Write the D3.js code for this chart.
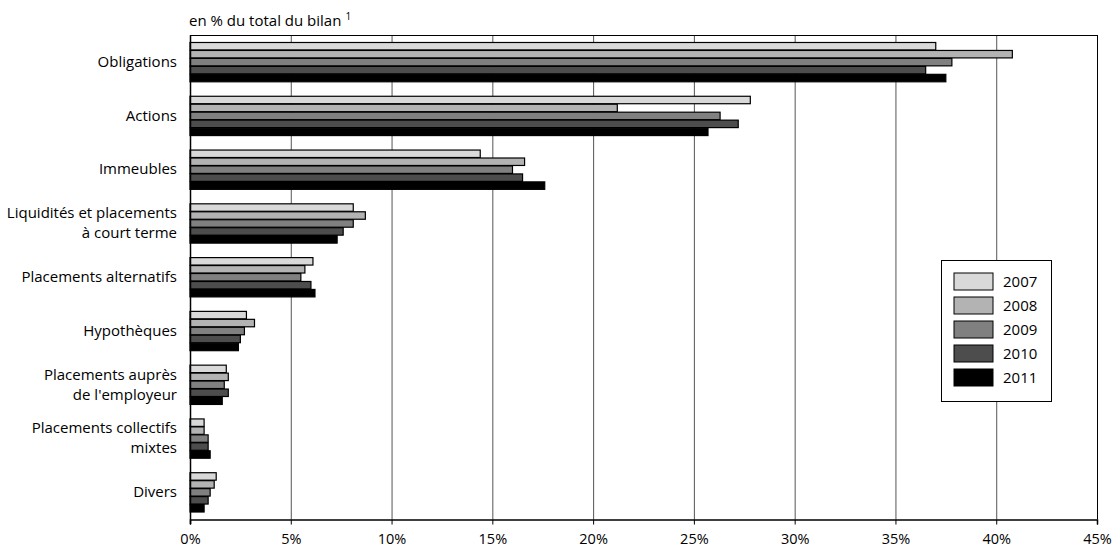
<!DOCTYPE html>
<html><head><meta charset="utf-8">
<script src="https://cdn.jsdelivr.net/npm/d3@7/dist/d3.min.js"></script>
<style>body{margin:0;background:#fff}svg text{font-family:"Open Sans",sans-serif;fill:#000}</style>
</head><body><svg id="c" width="1116" height="549"></svg>
<script>
const categories = [
  ["Obligations"],
  ["Actions"],
  ["Immeubles"],
  ["Liquidités et placements","à court terme"],
  ["Placements alternatifs"],
  ["Hypothèques"],
  ["Placements auprès","de l'employeur"],
  ["Placements collectifs","mixtes"],
  ["Divers"]
];
const years = ["2007","2008","2009","2010","2011"];
const v2007 = [37.0, 27.8, 14.4, 8.1, 6.1, 2.8, 1.8, 0.7, 1.3];
const v2008 = [40.8, 21.2, 16.6, 8.7, 5.7, 3.2, 1.9, 0.7, 1.2];
const v2009 = [37.8, 26.3, 16.0, 8.1, 5.5, 2.7, 1.7, 0.9, 1.0];
const v2010 = [36.5, 27.2, 16.5, 7.6, 6.0, 2.5, 1.9, 0.9, 0.9];
const v2011 = [37.5, 25.7, 17.6, 7.3, 6.2, 2.4, 1.6, 1.0, 0.7];
const xTicks = [0,5,10,15,20,25,30,35,40,45];
const colors = ["#d9d9d9","#b3b3b3","#808080","#4d4d4d","#000000"];
const series = [v2007,v2008,v2009,v2010,v2011];

const svg = d3.select("#c");
const m = {l:190, r:1097, t:35, b:519};
const x = d3.scaleLinear().domain([0,45]).range([m.l, m.r]);
const y = d3.scaleBand().domain(d3.range(categories.length)).range([m.t, m.b]).paddingInner(0.26).paddingOuter(0.13);
const ys = d3.scaleBand().domain(d3.range(years.length)).range([0, y.bandwidth()]);

// gridlines
svg.append("g").selectAll("line").data(xTicks.slice(1,-1)).join("line")
  .attr("x1", d=>x(d)+0.5).attr("x2", d=>x(d)+0.5).attr("y1", m.t).attr("y2", m.b)
  .attr("stroke","#555").attr("stroke-width",1);
// frame top/right
svg.append("line").attr("x1",m.l).attr("x2",m.r+0.5).attr("y1",m.t+0.5).attr("y2",m.t+0.5).attr("stroke","#000");
svg.append("line").attr("x1",m.r+0.5).attr("x2",m.r+0.5).attr("y1",m.t).attr("y2",m.b).attr("stroke","#000");

// bars
categories.forEach((c,i)=>{
  const g = svg.append("g").attr("transform",`translate(0,${y(i)})`);
  g.selectAll("rect").data(series.map((s,k)=>({v:s[i],k}))).join("rect")
    .attr("x", x(0)).attr("y", d=>ys(d.k)+0.5)
    .attr("width", d=>x(d.v)-x(0)).attr("height", ys.bandwidth()-0.5)
    .attr("fill", d=>colors[d.k]).attr("stroke","#000").attr("stroke-width",1.2);
});

// bottom axis
const ax = svg.append("g").attr("transform",`translate(0,${m.b+0.5})`)
  .call(d3.axisBottom(x).tickValues(xTicks).tickFormat(d=>d+"%").tickSizeOuter(0).tickSize(5).tickPadding(9));
ax.select(".domain").attr("stroke","#000").attr("stroke-width",1.5);
ax.selectAll(".tick line").attr("stroke","#000");
ax.selectAll("text").attr("font-size",14.5).attr("font-family","'Open Sans',sans-serif");
// left axis line
svg.append("line").attr("x1",m.l+0.5).attr("x2",m.l+0.5).attr("y1",m.t).attr("y2",m.b+5).attr("stroke","#000").attr("stroke-width",1.5);

// category labels
categories.forEach((c,i)=>{
  const cy = y(i)+y.bandwidth()/2;
  const n = c.length, lh = 20;
  c.forEach((t,j)=>{
    svg.append("text").attr("x",177).attr("y", cy + (j-(n-1)/2)*lh + 5)
      .attr("text-anchor","end").attr("font-size",15).text(t);
  });
});

// title
const tt = svg.append("text").attr("x",189).attr("y",26).attr("font-size",15);
tt.append("tspan").text("en % du total du bilan");
tt.append("tspan").attr("dx",4).attr("dy",-6).attr("font-size",10).text("1");

// legend
const lg = svg.append("g");
lg.append("rect").attr("x",941.5).attr("y",260.5).attr("width",110).attr("height",141).attr("fill","#fff").attr("stroke","#000");
years.forEach((yr,k)=>{
  const yy = 273 + k*24;
  lg.append("rect").attr("x",954).attr("y",yy).attr("width",39).attr("height",17).attr("fill",colors[k]).attr("stroke","#000");
  lg.append("text").attr("x",1003).attr("y",yy+14).attr("font-size",15).text(yr);
});
</script></body></html>
